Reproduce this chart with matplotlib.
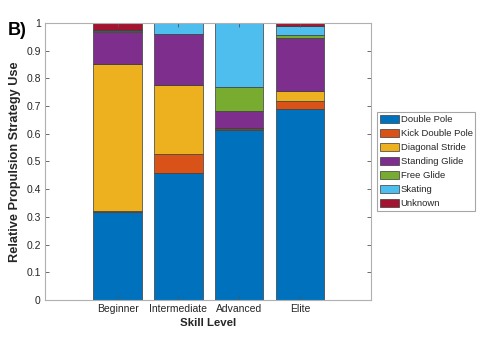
import matplotlib
matplotlib.use('Agg')
import matplotlib.pyplot as plt
import numpy as np

plt.rcParams['font.family'] = ['Liberation Sans', 'DejaVu Sans']

# Data
levels     = ['Beginner', 'Intermediate', 'Advanced', 'Elite']
strategies = ['Double Pole', 'Kick Double Pole', 'Diagonal Stride',
              'Standing Glide', 'Free Glide', 'Skating', 'Unknown']

double_pole   = [0.317, 0.457, 0.615, 0.688]
kick_double   = [0.003, 0.070, 0.001, 0.030]
diag_stride   = [0.531, 0.249, 0.004, 0.035]
standing_glde = [0.118, 0.185, 0.062, 0.194]
free_glide    = [0.001, 0.000, 0.086, 0.011]
skating       = [0.006, 0.037, 0.232, 0.031]
unknown       = [0.024, 0.002, 0.000, 0.011]

colors = ['#0072BD', '#D95319', '#EDB120', '#7E2F8E',
          '#77AC30', '#4DBEEE', '#A2142F']

series = [double_pole, kick_double, diag_stride, standing_glde,
          free_glide, skating, unknown]

fig = plt.figure(figsize=(4.88, 3.64), dpi=100)
ax = fig.add_axes([0.092, 0.176, 0.668, 0.761])

x = np.arange(len(levels))
bottom = np.zeros(len(levels))
handles = []
for vals, col, name in zip(series, colors, strategies):
    b = ax.bar(x, vals, width=0.8, bottom=bottom, color=col,
               edgecolor='#3a3a3a', linewidth=0.5, label=name)
    handles.append(b)
    bottom += np.array(vals)

ax.set_xlim(-1.2, 4.17)
ax.set_ylim(0, 1)
ax.set_xticks(x)
ax.set_xticklabels(levels)
yt = np.arange(0, 1.01, 0.1)
ax.set_yticks(yt)
ax.set_yticklabels(['0'] + ['%.1f' % v for v in yt[1:-1]] + ['1'])

grey = '#262626'
for s in ax.spines.values():
    s.set_color('#b0b0b0')
    s.set_linewidth(0.8)
ax.tick_params(direction='in', length=3, width=0.6, color='#555555',
               labelsize=7.5, labelcolor=grey, top=True, right=True, pad=3)

ax.set_xlabel('Skill Level', fontsize=8.2, fontweight='bold', color=grey, labelpad=3)
ax.set_ylabel('Relative Propulsion Strategy Use', fontsize=9.2, fontweight='bold',
              color=grey, labelpad=4)

fig.text(0.016, 0.905, 'B)', fontsize=13, fontweight='bold', color='black')

leg = fig.legend(handles, strategies, loc='upper left',
                 bbox_to_anchor=(377 / 488, 1 - 112 / 364),
                 fontsize=6.8, frameon=True, fancybox=False,
                 handlelength=2.0, handleheight=0.95, handletextpad=0.2,
                 labelspacing=0.5, borderpad=0.3, borderaxespad=0)
leg.get_frame().set_edgecolor('#909090')
leg.get_frame().set_linewidth(0.8)
for t in leg.get_texts():
    t.set_color(grey)

fig.savefig('out.png', dpi=100)
